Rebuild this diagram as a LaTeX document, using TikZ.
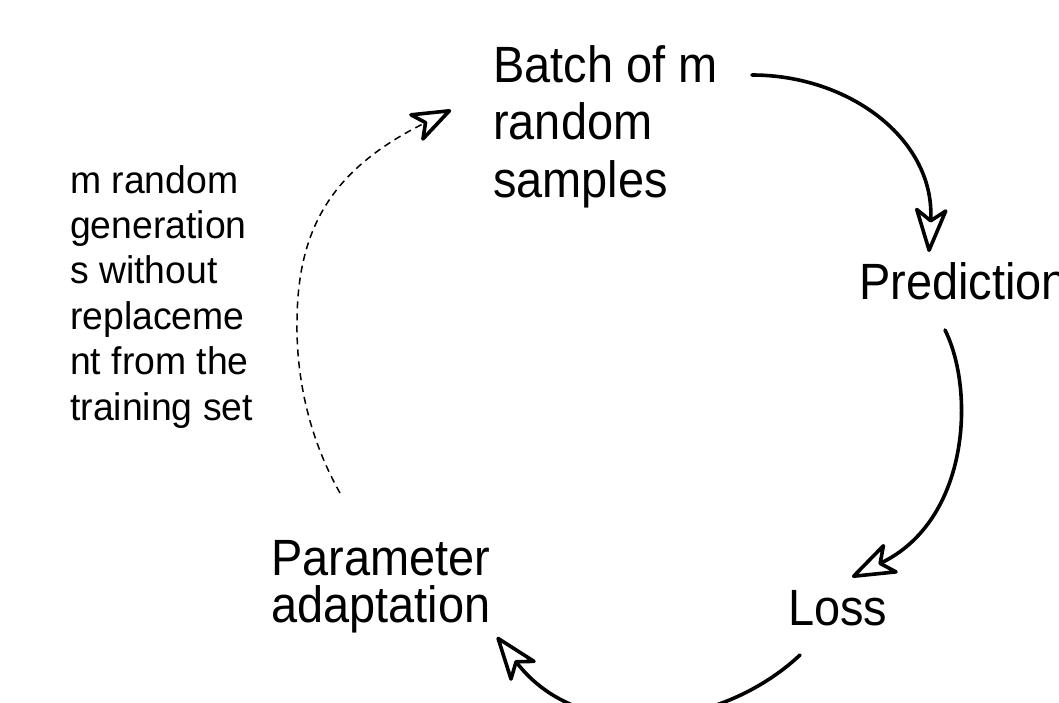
\documentclass[tikz,border=0pt]{standalone}
\usepackage{fontspec}
\setmainfont{Liberation Sans}[FakeStretch=0.92]
\newfontfamily\notefont{Liberation Sans}[FakeStretch=0.97]
\usetikzlibrary{arrows.meta}
\tikzset{
  bigtext/.style={inner sep=0pt, align=left, anchor=base west,
    font=\fontsize{51}{57.5}\selectfont},
  smalltext/.style={inner sep=0pt, align=left, anchor=base west,
    font=\notefont\fontsize{38.5}{45.4}\selectfont},
  flow/.style={line width=3.6pt, line cap=round,
    -{Stealth[open, length=50pt, width=36pt, inset=13pt, line width=3.6pt, round]}},
  dashflow/.style={line width=1.5pt, dash pattern=on 7pt off 5pt,
    -{Stealth[open, length=46pt, width=34pt, inset=12pt, line width=3.6pt, round]}}
}
\begin{document}
\begin{tikzpicture}[x=1pt,y=-1pt]
\useasboundingbox (0,0) rectangle (1059,702);
\clip (0,0) rectangle (1059,702);
\fill[white] (0,0) rectangle (1059,702);

% anchor = baseline of the last line
\node[bigtext] (batch) at (493,197) {Batch of m\\random\\samples};
\node[bigtext] (pred) at (859,299) {Prediction};
\node[bigtext] (loss) at (788,625) {Loss};
\node[bigtext, font=\fontsize{51}{47}\selectfont] (param) at (271,622) {Parameter\\adaptation};
\node[smalltext] (note) at (70,420) {m random\\generation\\s without\\replaceme\\nt from the\\training set};

\coordinate (batchout) at (752,75);
\coordinate (predin) at (929,252);
\coordinate (predout) at (945,330);
\coordinate (lossin) at (852,577);
\coordinate (lossout) at (800,655);
\coordinate (paramin) at (497,637);
\coordinate (paramout) at (340,493);
\coordinate (batchin) at (451,110);

\draw[flow] (batchout) .. controls (850,75) and (935,140) .. (predin);
\draw[flow] (predout) .. controls (975,390) and (970,520) .. (lossin);
\draw[flow] (lossout) .. controls (720,730) and (580,745) .. (paramin);
\draw[dashflow] (paramout) .. controls (310,440) and (296,380) .. (297,320)
  .. controls (298,230) and (330,170) .. (batchin);
\end{tikzpicture}
\end{document}
